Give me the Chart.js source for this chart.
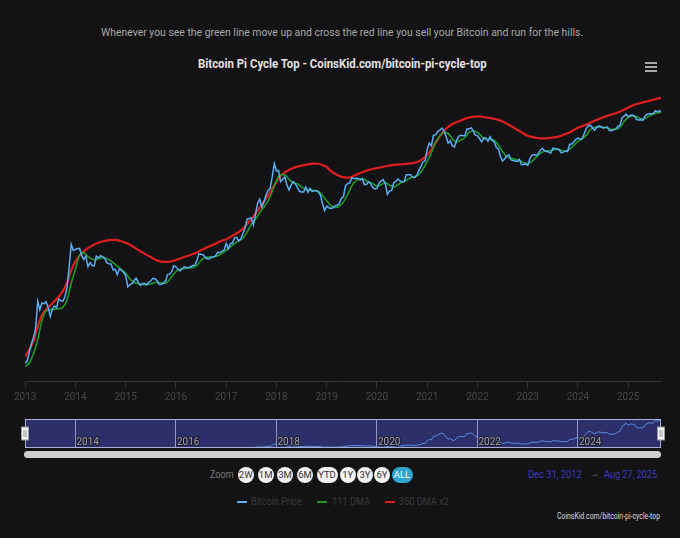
<!DOCTYPE html>
<html>
<head>
<meta charset="utf-8">
<script src="https://cdn.jsdelivr.net/npm/chart.js@4.4.1/dist/chart.umd.min.js"></script>
<style>
  body { margin: 0; background: #131315; width: 680px; height: 538px; overflow: hidden; font-family: Roboto, "Noto Sans", sans-serif; position: relative; }
  .abs { position: absolute; white-space: nowrap; transform-origin: left center; }
  #sub { left: 101px; top: 26px; font-size: 11px; color: #a8a8a8; }
  #title { left: 198px; top: 56px; font-size: 12.5px; font-weight: bold; color: #e2e2e2; }
  #menu { left: 645px; top: 62px; width: 12px; }
  #menu div { height: 2px; background: #a8a8a8; margin-bottom: 2px; }
  #main { position: absolute; left: 0; top: 80px; }
  #nav { position: absolute; left: 0; top: 412px; }
  #scroll { position: absolute; left: 24px; top: 451px; width: 637px; height: 7px; border-radius: 4px; background: #cfcfcf; }
  #zoomLbl { left: 210px; top: 468px; font-size: 11px; color: #7a7a7a; }
  .btn { position: absolute; top: 467px; height: 16px; border-radius: 8px; background: #f2f2f2; color: #333; font-size: 9.5px; line-height: 16px; text-align: center; }
  .btn.on { background: #2fa5cd; color: #fff; }
  .date { top: 468px; font-size: 11px; color: #3b3bc0; }
  #d1 { left: 528px; }
  #d2 { left: 604px; }
  #arrow { left: 589px; top: 467px; font-size: 11px; color: #666; }
  .leg { top: 495px; font-size: 11px; color: #3a3a3a; }
  .sw { position: absolute; top: 501px; width: 10px; height: 2px; }
  #credit { left: 557px; top: 511px; font-size: 9px; color: #dddddd; }
</style>
</head>
<body>
<div id="sub" class="abs">Whenever you see the green line move up and cross the red line you sell your Bitcoin and run for the hills.</div>
<div id="title" class="abs">Bitcoin Pi Cycle Top - CoinsKid.com/bitcoin-pi-cycle-top</div>
<div id="menu" class="abs"><div></div><div></div><div></div></div>
<canvas id="main" width="680" height="330"></canvas>
<canvas id="nav" width="680" height="40"></canvas>
<div id="scroll"></div>
<div id="zoomLbl" class="abs">Zoom</div>
<div id="buttons"></div>
<div id="d1" class="abs date">Dec 31, 2012</div>
<div id="arrow" class="abs">→</div>
<div id="d2" class="abs date">Aug 27, 2025</div>
<div class="sw" style="left:237px;background:#5aaef2"></div>
<div id="l1" class="abs leg" style="left:251px">Bitcoin Price</div>
<div class="sw" style="left:317px;background:#1f9a2a"></div>
<div id="l2" class="abs leg" style="left:332px">111 DMA</div>
<div class="sw" style="left:385px;background:#e01e1e"></div>
<div id="l3" class="abs leg" style="left:399px">350 DMA x2</div>
<div id="credit" class="abs">CoinsKid.com/bitcoin-pi-cycle-top</div>
<script>
const startX = 2012.997;
const endX = 2025.652;

// price on the 1st and 15th of each month, Jan 2013 - Aug 2025
const priceValues = [
  13.4, 14.5, 20, 27, 34, 47, 125, 92, 117, 114, 122, 100, 72, 95, 105, 99, 135, 127, 125, 145, 205, 420, 960, 780,
  800, 830, 830, 640, 560, 630, 430, 500, 450, 445, 630, 590, 640, 620, 590, 500, 480, 475, 385, 395, 325, 400, 380, 350,
  315, 210, 225, 235, 260, 285, 245, 220, 235, 237, 225, 245, 258, 285, 280, 260, 228, 230, 237, 255, 325, 330, 360, 445,
  430, 390, 372, 400, 430, 415, 418, 430, 450, 455, 536, 690, 675, 665, 605, 570, 572, 608, 615, 640, 730, 712, 755, 780,
  998, 820, 990, 1010, 1220, 1240, 1090, 1180, 1420, 1720, 2400, 2450, 2500, 1930, 2870, 4200, 4900, 3700, 4400, 5700, 6700, 7300, 10900, 17500,
  13500, 13800, 9200, 10000, 10900, 8200, 6850, 8100, 9250, 8500, 7500, 6500, 6350, 6350, 7600, 6300, 7200, 6500, 6600, 6600, 6350, 5700, 4200, 3250,
  3800, 3600, 3500, 3600, 3850, 3950, 4150, 5050, 5350, 8000, 8550, 8800, 10600, 10300, 10400, 10300, 9750, 10300, 8300, 8300, 9200, 8500, 7400, 7100,
  7200, 8800, 9350, 9900, 8550, 5800, 6600, 6650, 8800, 9300, 10100, 9450, 9200, 9200, 11800, 11800, 11900, 10800, 10600, 11500, 13800, 15900, 18800, 19400,
  29400, 36800, 33500, 48700, 49600, 55600, 59000, 63200, 57800, 46500, 36700, 40200, 33500, 31800, 39900, 47000, 48800, 48100, 48200, 61600, 61000, 63700, 57200, 48900,
  47700, 43100, 38700, 44500, 44400, 39300, 46300, 40500, 38500, 31300, 29800, 22600, 19300, 20800, 23300, 24100, 20100, 19700, 19300, 19100, 20500, 16900, 17000, 17400,
  16600, 20900, 23700, 24300, 23600, 24800, 28500, 30400, 28100, 27200, 26800, 25600, 30600, 30300, 29700, 29200, 25900, 26600, 27900, 27100, 35400, 35600, 38700, 42000,
  44200, 42500, 43000, 51900, 62400, 69500, 69700, 63400, 58300, 66200, 67800, 66200, 62900, 64800, 65400, 57600, 57300, 59200, 60800, 67000, 69500, 91000, 97200, 104400,
  94400, 100500, 100700, 97500, 86000, 84300, 85200, 83700, 96500, 103700, 105700, 105500, 105700, 117700, 113300, 117300
];
const lastPrice = 115000;

// moving averages on the 1st of each month, Jan 2013 - Aug 2025
const dma111Values = [
  12, 13.5, 19, 31, 62, 88, 92, 93, 95, 100, 130, 240,
  390, 660, 710, 620, 565, 560, 590, 590, 560, 500, 440, 390,
  340, 280, 245, 235, 228, 226, 232, 245, 245, 238, 250, 300,
  360, 395, 405, 412, 420, 450, 540, 600, 610, 610, 640, 700,
  780, 880, 990, 1100, 1200, 1500, 2000, 2400, 3000, 3700, 4600, 6500,
  9500, 11800, 11800, 10000, 8800, 8500, 7600, 7000, 6800, 6700, 6500, 5600,
  4600, 3900, 3650, 3800, 4400, 5800, 7900, 9500, 10200, 9900, 9100, 8600,
  7900, 8200, 8800, 8100, 7600, 8200, 9100, 9600, 10600, 11000, 11800, 14500,
  19000, 26000, 38000, 48000, 54000, 52000, 43000, 38000, 41000, 45000, 54000, 57000,
  54000, 47000, 42000, 42000, 41000, 34000, 27000, 22500, 21500, 20500, 19800, 18200,
  17500, 19000, 22000, 25500, 27500, 28000, 28500, 29500, 28500, 27400, 29500, 34000,
  39000, 43000, 49000, 60000, 64500, 65500, 65000, 63500, 60000, 61000, 65000, 80000,
  93000, 97000, 96000, 88000, 89000, 97000, 105000, 109000
];
const lastDma111 = 111000;

const dma350x2Values = [
  17, 22, 30, 50, 75, 92, 108, 125, 145, 180, 240, 380,
  520, 640, 750, 840, 920, 990, 1050, 1090, 1120, 1130, 1120, 1080,
  1020, 950, 870, 790, 720, 660, 610, 560, 525, 515, 515, 525,
  550, 580, 610, 640, 680, 720, 780, 840, 900, 960, 1030, 1100,
  1150, 1250, 1380, 1500, 1700, 2000, 2400, 2900, 3600, 4500, 5600, 7200,
  9000, 11300, 12800, 14000, 15000, 15800, 16400, 16900, 17300, 17600, 17500, 16800,
  15500, 13500, 12200, 11300, 10800, 10600, 11000, 11800, 12600, 13300, 14000, 14500,
  15000, 15400, 16000, 16400, 16800, 17000, 17200, 17400, 17700, 18200, 19000, 21000,
  24000, 29000, 37000, 47000, 57000, 66000, 73000, 78000, 83000, 88000, 92000, 95000,
  96000, 95000, 93000, 91000, 88000, 85000, 80000, 74000, 68000, 62000, 57000, 52000,
  48000, 46000, 44500, 43500, 43500, 44000, 45000, 46000, 48000, 51000, 54000, 59000,
  64000, 68000, 72000, 77000, 82000, 88000, 93000, 98000, 103000, 108000, 114000, 122000,
  132000, 142000, 150000, 156000, 162000, 168000, 175000, 182000
];
const lastDma350x2 = 188000;

const zoomButtons = ["2W", "1M", "3M", "6M", "YTD", "1Y", "3Y", "6Y", "ALL"];

function toPoints(values, perYear, last) {
  const pts = values.map((v, i) => ({ x: 2013 + i / perYear, y: v }));
  pts.push({ x: endX, y: last });
  return pts;
}

const pricePts = toPoints(priceValues, 24, lastPrice);
const dma111Pts = toPoints(dma111Values, 12, lastDma111);
const dma350Pts = toPoints(dma350x2Values, 12, lastDma350x2);

new Chart(document.getElementById("main"), {
  type: "line",
  data: {
    datasets: [
      { label: "Bitcoin Price", data: pricePts, borderColor: "#5aaef2", borderWidth: 1.5, pointRadius: 0, tension: 0 },
      { label: "111 DMA", data: dma111Pts, borderColor: "#1f9a2a", borderWidth: 1.6, pointRadius: 0, cubicInterpolationMode: "monotone" },
      { label: "350 DMA x2", data: dma350Pts, borderColor: "#e01e1e", borderWidth: 2.2, pointRadius: 0, cubicInterpolationMode: "monotone" },
    ],
  },
  options: {
    responsive: false,
    animation: false,
    layout: { padding: { left: 25, right: 19, top: 6, bottom: 4 } },
    plugins: { legend: { display: false }, tooltip: { enabled: false } },
    scales: {
      x: {
        type: "linear",
        min: startX,
        max: endX,
        grid: { drawOnChartArea: false, tickLength: 7, color: "#333" },
        border: { color: "#333" },
        ticks: {
          stepSize: 1,
          includeBounds: false,
          autoSkip: false,
          maxRotation: 0,
          padding: 3,
          color: "#474747",
          font: { size: 10, family: "Roboto" },
          callback: (v) => (Number.isInteger(v) ? String(v) : ""),
        },
      },
      y: { type: "logarithmic", display: false, min: 7.07, max: 287000 },
    },
  },
});

const navDecor = {
  id: "navDecor",
  beforeDraw(chart) {
    const a = chart.chartArea;
    const c = chart.ctx;
    c.save();
    c.fillStyle = "#2c2f6a";
    c.fillRect(a.left, a.top, a.right - a.left, a.bottom - a.top);
    c.restore();
  },
  afterDraw(chart) {
    const a = chart.chartArea;
    const c = chart.ctx;
    const xs = chart.scales.x;
    c.save();
    c.font = "10px Roboto";
    c.textBaseline = "bottom";
    c.lineWidth = 2;
    c.strokeStyle = "#1b1b2a";
    c.fillStyle = "#a0a0b0";
    xs.ticks.forEach((t) => {
      const px = xs.getPixelForValue(t.value);
      c.strokeText(String(t.value), px + 1, a.bottom - 1);
      c.fillText(String(t.value), px + 1, a.bottom - 1);
    });
    c.strokeStyle = "#a9aed6";
    c.lineWidth = 1;
    c.strokeRect(a.left + 0.5, a.top + 0.5, a.right - a.left - 1, a.bottom - a.top - 1);
    [a.left, a.right].forEach((hx) => {
      c.fillStyle = "#f2f2f2";
      c.strokeStyle = "#999";
      c.fillRect(hx - 3.5, 15, 7, 13);
      c.strokeRect(hx - 3.5, 15, 7, 13);
      c.beginPath();
      c.moveTo(hx - 1, 18);
      c.lineTo(hx - 1, 25);
      c.moveTo(hx + 1, 18);
      c.lineTo(hx + 1, 25);
      c.stroke();
    });
    c.restore();
  },
};

new Chart(document.getElementById("nav"), {
  type: "line",
  data: {
    datasets: [{ data: pricePts, borderColor: "#5b8fe2", borderWidth: 1, pointRadius: 0, tension: 0 }],
  },
  options: {
    responsive: false,
    animation: false,
    layout: { padding: { left: 25, right: 19, top: 7, bottom: 4 } },
    plugins: { legend: { display: false }, tooltip: { enabled: false } },
    scales: {
      x: {
        type: "linear",
        min: startX,
        max: endX,
        grid: { drawTicks: false, color: "rgba(190,195,235,0.7)" },
        border: { display: false },
        ticks: { display: false, stepSize: 2, includeBounds: false },
      },
      y: { display: false, min: 0, max: 122000 },
    },
  },
  plugins: [navDecor],
});

const btnCenters = [245.7, 265.7, 285, 305, 327, 347.7, 365, 382, 402];
const holder = document.getElementById("buttons");
zoomButtons.forEach((b, i) => {
  const el = document.createElement("div");
  el.className = "btn" + (b === "ALL" ? " on" : "");
  const w = b.length > 2 ? 21 : 16;
  el.style.width = w + "px";
  el.style.left = btnCenters[i] - w / 2 + "px";
  el.textContent = b;
  holder.appendChild(el);
});

function fit(id, w) {
  const el = document.getElementById(id);
  el.style.transform = "scaleX(" + w / el.offsetWidth + ")";
}
fit("sub", 482);
fit("title", 289);
fit("credit", 103);
fit("zoomLbl", 24);
fit("d1", 54);
fit("d2", 53);
fit("l1", 51);
fit("l2", 38);
fit("l3", 50);
</script>
</body>
</html>
